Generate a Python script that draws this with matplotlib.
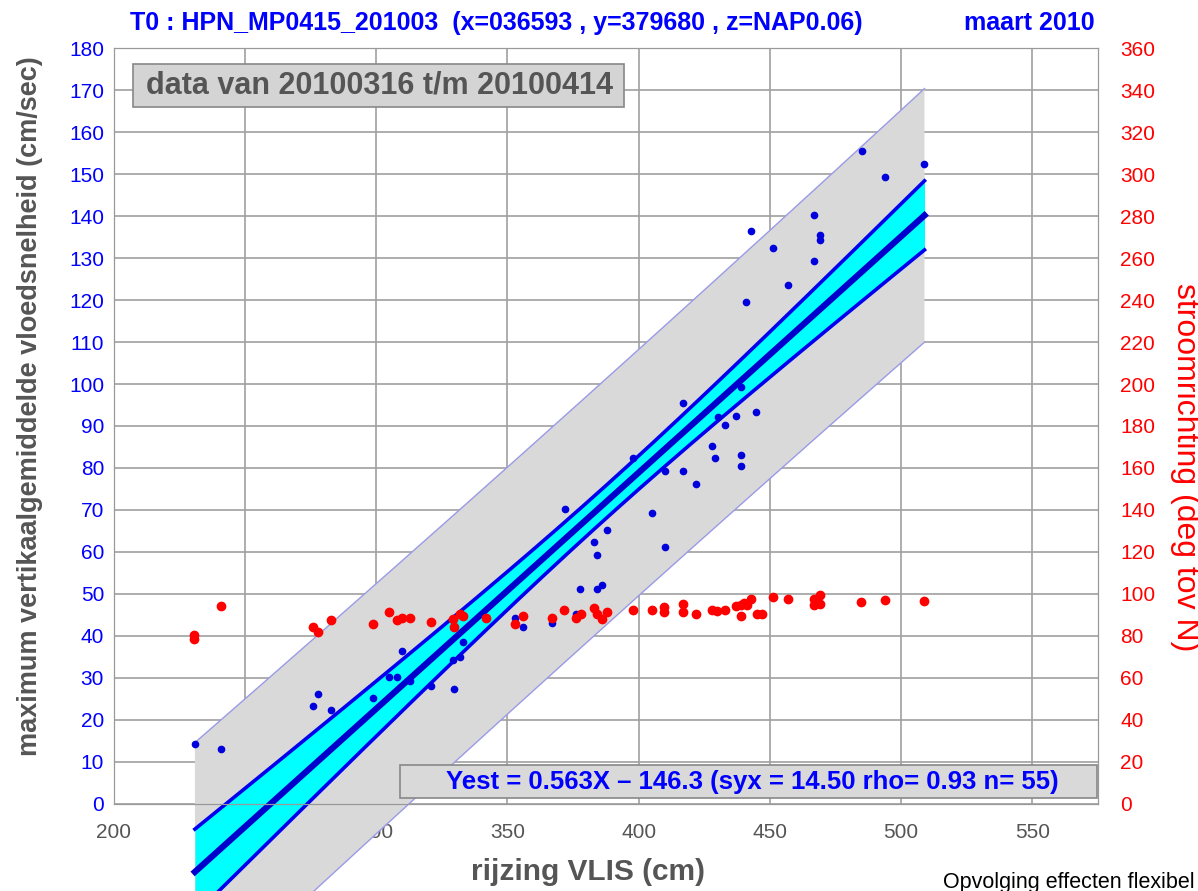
import numpy as np
import matplotlib.pyplot as plt
from matplotlib.patches import Rectangle

plt.rcParams['font.family'] = ['Liberation Sans', 'DejaVu Sans']

# rijzing VLIS (cm) per tij
rijzing = [230.9, 240.8, 275.8, 277.8, 282.9, 298.9, 304.9, 307.8, 310.0, 312.8,
           321.0, 329.7, 329.1, 332.1, 333.2, 352.9, 371.8, 388.0, 382.9, 384.0,
           385.9, 377.8, 384.0, 355.9, 366.9, 376.0, 417.0, 439.0, 430.1, 437.0,
           444.8, 432.9, 428.0, 429.0, 439.0, 439.0, 410.0, 417.0, 421.9, 405.1,
           410.0, 397.9, 484.9, 508.9, 493.9, 466.9, 442.9, 469.0, 469.0, 451.0,
           466.9, 456.8, 440.9]
# maximum vertikaalgemiddelde vloedsnelheid (cm/sec)
snelheid = [14.2, 13.1, 23.2, 26.1, 22.2, 25.2, 30.2, 30.2, 36.3, 29.2,
            28.0, 27.2, 34.1, 35.0, 38.4, 44.2, 70.3, 65.2, 62.3, 59.2,
            52.1, 51.1, 51.1, 42.0, 43.1, 45.2, 95.4, 99.3, 92.2, 92.3,
            93.4, 90.2, 85.2, 82.3, 83.2, 80.4, 79.3, 79.3, 76.2, 69.2,
            61.2, 82.4, 155.5, 152.5, 149.4, 140.4, 136.4, 135.5, 134.4, 132.5,
            129.4, 123.5, 119.6]

# stroomrichting (deg tov N)
rijzing_r = [230.7, 230.7, 240.8, 275.8, 277.9, 282.9, 298.9, 304.9, 307.8, 310.0,
             312.9, 321.0, 329.1, 332.1, 333.2, 329.8, 341.9, 352.9, 355.9, 366.9,
             371.7, 376.0, 377.9, 382.8, 384.0, 386.0, 387.9, 397.9, 405.0, 409.7,
             409.7, 417.0, 417.0, 421.9, 427.9, 429.7, 432.8, 437.2, 439.0, 439.0,
             441.2, 442.8, 440.2, 445.0, 447.1, 451.1, 456.8, 466.8, 466.8, 469.0,
             469.0, 484.8, 494.0, 508.9]
richting = [80.2, 78.3, 94.4, 84.3, 81.8, 87.3, 85.6, 91.3, 87.5, 88.3,
            88.3, 86.4, 87.8, 90.5, 89.4, 84.3, 88.4, 85.4, 89.4, 88.3,
            92.4, 88.3, 90.4, 93.2, 90.4, 88.0, 91.3, 92.5, 92.5, 93.6,
            91.2, 95.1, 91.2, 90.2, 92.5, 91.6, 92.5, 94.4, 94.8, 89.6,
            94.8, 97.4, 95.5, 90.5, 90.5, 98.3, 97.4, 97.7, 94.5, 99.6,
            95.1, 96.3, 97.2, 96.4]

# regressie
slope, intercept = 0.563, -146.3
syx, rho, n = 14.50, 0.93, 55
t_val = 2.006

x = np.array(rijzing)
xm = x.mean()
sxx = ((x - xm) ** 2).sum()
xx = np.linspace(x.min(), x.max(), 200)
yest = slope * xx + intercept
ci = t_val * syx * np.sqrt(1.0 / n + (xx - xm) ** 2 / sxx)
pi = t_val * syx * np.sqrt(1.0 + 1.0 / n + (xx - xm) ** 2 / sxx)

W, H = 1198, 891
fig = plt.figure(figsize=(W / 100, H / 100), dpi=100)
ax = fig.add_axes([0.095, 0.0982, 0.8215, 0.8474])
ax2 = ax.twinx()

ax.set_xlim(200, 575)
ax.set_ylim(0, 180)
ax2.set_ylim(0, 360)
ax.set_xticks(np.arange(200, 551, 50))
ax.set_yticks(np.arange(0, 181, 10))
ax2.set_yticks(np.arange(0, 361, 20))
ax.set_axisbelow(True)
ax.grid(True, color='#a0a0a0', linewidth=1.2)
for a in (ax, ax2):
    for s in a.spines.values():
        s.set_color('#999999')
ax.tick_params(axis='x', length=0, pad=14, labelsize=15, labelcolor='#555555')
ax.tick_params(axis='y', length=0, pad=7, labelsize=15, labelcolor='#0000ff')
ax2.tick_params(axis='y', length=0, pad=16, labelsize=15, labelcolor='#ff0000')

# banden (lopen door tot onder de as)
ax.fill_between(xx, yest - pi, yest + pi, color='#d9d9d9', lw=0, zorder=1, clip_on=False)
ax.plot(xx, yest + pi, color='#9a9ae6', lw=1, zorder=1.1, clip_on=False)
ax.plot(xx, yest - pi, color='#9a9ae6', lw=1, zorder=1.1, clip_on=False)
ax.fill_between(xx, yest - ci, yest + ci, color='#00ffff', lw=0, zorder=1.2, clip_on=False)
ax.plot(xx, yest + ci, color='#0000ee', lw=2.6, zorder=1.3, clip_on=False)
ax.plot(xx, yest - ci, color='#0000ee', lw=2.6, zorder=1.3, clip_on=False)
ax.plot(xx, yest, color='#0000cc', lw=4.5, zorder=1.4, clip_on=False)

ax.plot(rijzing, snelheid, 'o', color='#0000dd', ms=4.5, zorder=3)
ax2.plot(rijzing_r, richting, 'o', color='#ff0000', ms=6, zorder=3)

# kader met periode
fig.patches.append(Rectangle((133 / W, 1 - 107 / H), 491 / W, 43 / H,
                             transform=fig.transFigure, facecolor='#d4d4d4',
                             edgecolor='#888888', lw=1.2, zorder=5))
fig.text(379 / W, 1 - 86 / H, 'data van 20100316 t/m 20100414', fontsize=22,
         fontweight='bold', color='#555555', ha='center', va='center', zorder=6)

# kader met regressievergelijking
fig.patches.append(Rectangle((400 / W, 1 - 798 / H), 697 / W, 33 / H,
                             transform=fig.transFigure, facecolor='#d9d9d9',
                             edgecolor='#888888', lw=1.2, zorder=5))
fig.text(752 / W, 1 - 782 / H,
         'Yest = %.3fX \u2013 %.1f (syx = %.2f rho= %.2f n= %d)' % (slope, -intercept, syx, rho, n),
         fontsize=18.5, fontweight='bold', color='#0000ff', ha='center', va='center', zorder=6)

fig.text(130 / W, 1 - 23 / H, 'T0 : HPN_MP0415_201003  (x=036593 , y=379680 , z=NAP0.06)',
         fontsize=18, fontweight='bold', color='#0000ff', ha='left', va='center')
fig.text(1095 / W, 1 - 23 / H, 'maart 2010', fontsize=18, fontweight='bold',
         color='#0000ff', ha='right', va='center')
fig.text(588 / W, 1 - 872 / H, 'rijzing VLIS (cm)', fontsize=21.5, fontweight='bold',
         color='#555555', ha='center', va='center')
fig.text(30 / W, 1 - 406 / H, 'maximum vertikaalgemiddelde vloedsnelheid (cm/sec)',
         fontsize=19.5, fontweight='bold', color='#555555', ha='center', va='center',
         rotation=90)
fig.text(1185 / W, 1 - 467 / H, 'stroomrichting (deg tov N)', fontsize=23,
         color='#ff0000', ha='center', va='center', rotation=270)
fig.text(943 / W, -2 / H, 'Opvolging effecten flexibel', fontsize=15.5,
         color='black', ha='left', va='bottom')

fig.savefig('out.png', dpi=100)
